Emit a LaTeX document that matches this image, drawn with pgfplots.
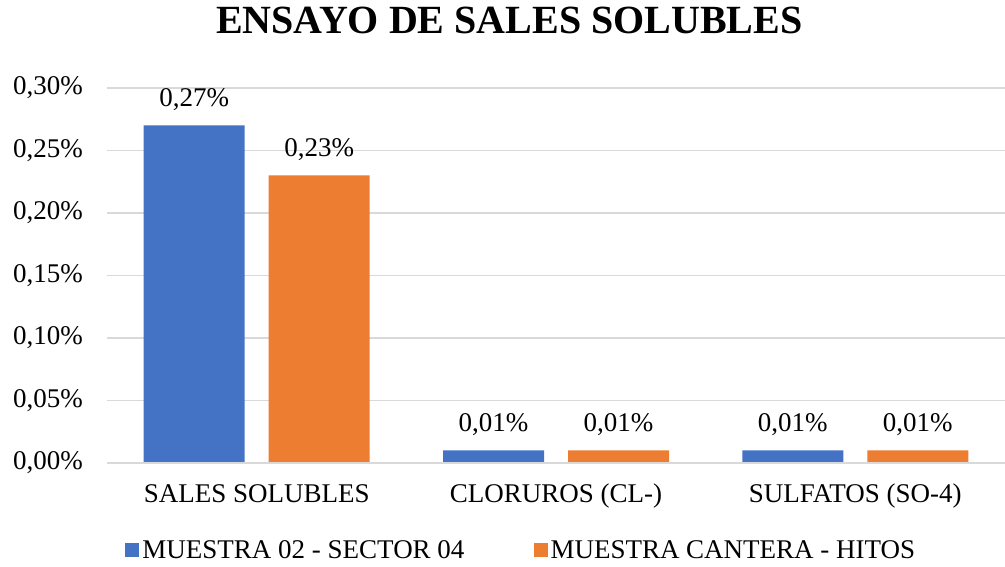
\documentclass[border=0pt]{standalone}
\usepackage{fontspec}
\setmainfont{Liberation Serif}
\usepackage{pgfplots}
\pgfplotsset{compat=1.18}
\definecolor{cblue}{HTML}{4472C4}
\definecolor{corange}{HTML}{ED7D31}
\definecolor{cgrid}{HTML}{D9D9D9}
\begin{document}
\begin{tikzpicture}
\path[use as bounding box] (-107pt,-104pt) rectangle (898pt,463pt);
\begin{axis}[
  scale only axis,
  width=898pt, height=375pt,
  ybar=24pt, bar width=101pt,
  xmin=-0.5, xmax=2.5,
  ymin=0, ymax=0.30,
  axis line style={draw=none},
  xtick=data,
  xticklabels={SALES SOLUBLES, CLORUROS (CL-), SULFATOS (SO-4)},
  ytick={0,0.05,0.10,0.15,0.20,0.25,0.30},
  yticklabels={{0,00\%},{0,05\%},{0,10\%},{0,15\%},{0,20\%},{0,25\%},{0,30\%}},
  ymajorgrids,
  grid style={cgrid, line width=1.5pt},
  major tick length=0pt,
  tick style={draw=none},
  font=\fontsize{27}{32}\selectfont,
  /pgf/number format/assume math mode=true,
  yticklabel style={anchor=east, inner sep=0pt, xshift=-24pt},
  xticklabel style={anchor=base, inner sep=0pt, yshift=-40pt},
  title={\fontsize{40}{46}\selectfont\bfseries ENSAYO DE SALES SOLUBLES},
  title style={at={(axis description cs:0.448,1)}, anchor=base, yshift=48pt, inner sep=0pt},
  nodes near coords={\pgfmathprintnumber[fixed,zerofill,precision=2,use comma]{\pgfplotspointmeta}\%},
  every node near coord/.append style={font=\fontsize{27}{32}\selectfont, inner sep=0pt, anchor=south, yshift=15pt, text=black},
  legend columns=2,
  legend style={at={(axis description cs:0.462,-0.232)}, anchor=center, draw=none, fill=none,
    font=\fontsize{27}{32}\selectfont, nodes={inner sep=3pt},
    /tikz/every even column/.append style={column sep=66pt}},
  legend image code/.code={\fill (0pt,-7pt) rectangle (14pt,7pt);},
  clip=false,
]
\addplot[fill=cblue, draw=none] coordinates {(0,0.27) (1,0.01) (2,0.01)};
\addplot[fill=corange, draw=none] coordinates {(0,0.23) (1,0.01) (2,0.01)};
\draw[cgrid, line width=1.5pt] (axis cs:-0.5,0) -- (axis cs:2.5,0);
\legend{MUESTRA 02 - SECTOR 04, MUESTRA CANTERA - HITOS}
\end{axis}
\end{tikzpicture}
\end{document}
